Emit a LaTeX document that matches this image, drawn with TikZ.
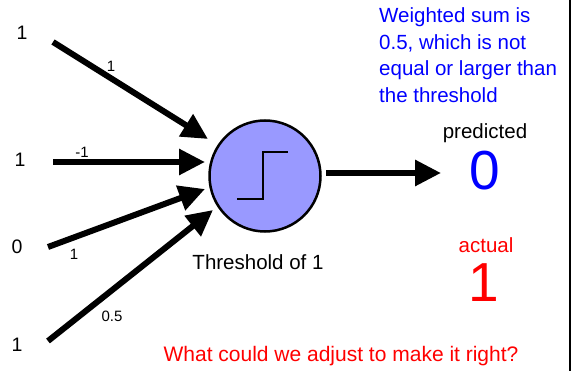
\documentclass[tikz,border=0pt]{standalone}
\usepackage{fontspec}
\setmainfont{Liberation Sans}
\usetikzlibrary{arrows.meta}
\definecolor{lav}{HTML}{9999FF}
\definecolor{myblue}{HTML}{0000FF}
\definecolor{myred}{HTML}{FF0000}
\tikzset{
  arr/.style={line width=6pt, -{Triangle[length=26pt,width=25pt]}},
  inlabel/.style={font=\fontsize{19.5}{22}\selectfont, inner sep=0pt},
  wlabel/.style={font=\fontsize{15}{17}\selectfont, inner sep=0pt},
  txt/.style={font=\fontsize{20.5}{26.7}\selectfont, inner sep=0pt},
  big/.style={font=\fontsize{55}{60}\selectfont, inner sep=0pt},
}
\begin{document}
\begin{tikzpicture}[x=1pt,y=-1pt]
\useasboundingbox (0,0) rectangle (577,371);
% neuron
\node[circle, draw, line width=2.5pt, fill=lav, minimum size=111pt, inner sep=0pt] (neuron) at (265,176) {};
\draw[line width=2.5pt] (237,199) -- (263,199) -- (263,152) -- (288,152);
\node[txt] (thr) at (258,262) {Threshold of 1};
% inputs
\node[inlabel] (in1) at (22,33) {1};
\node[inlabel] (in2) at (20,160) {1};
\node[inlabel] (in3) at (17,247) {0};
\node[inlabel] (in4) at (17,345) {1};
\coordinate (s1) at (53,42);
\coordinate (t1) at (208,139);
\coordinate (s2) at (53,162);
\coordinate (t2) at (205,162);
\coordinate (s3) at (48,247);
\coordinate (t3) at (205,189);
\coordinate (s4) at (48,341);
\coordinate (t4) at (213,210);
\draw[arr] (s1) -- (t1);
\draw[arr] (s2) -- (t2);
\draw[arr] (s3) -- (t3);
\draw[arr] (s4) -- (t4);
% weights
\node[wlabel] (w1) at (111,66) {1};
\node[wlabel] (w2) at (82,152) {-1};
\node[wlabel] (w3) at (74,254) {1};
\node[wlabel] (w4) at (112,316) {0.5};
% output
\coordinate (o1) at (326,173);
\coordinate (o2) at (441,173);
\draw[arr] (o1) -- (o2);
\node[txt] (pred) at (485,133) {predicted};
\node[big, text=myblue] (zero) at (485,171) {0};
\node[txt, text=myred] (act) at (486,245) {actual};
\node[big, text=myred] (one) at (484,283) {1};
\node[txt, text=myblue, align=left, anchor=north west] (note) at (379,7.5) {Weighted sum is\\0.5, which is not\\equal or larger than\\the threshold};
\node[font=\fontsize{21}{24}\selectfont, inner sep=0pt, text=myred] (q) at (341,356) {What could we adjust to make it right?};
% frame line
\draw[line width=2.5pt] (570,0) -- (570,371);
\end{tikzpicture}
\end{document}
